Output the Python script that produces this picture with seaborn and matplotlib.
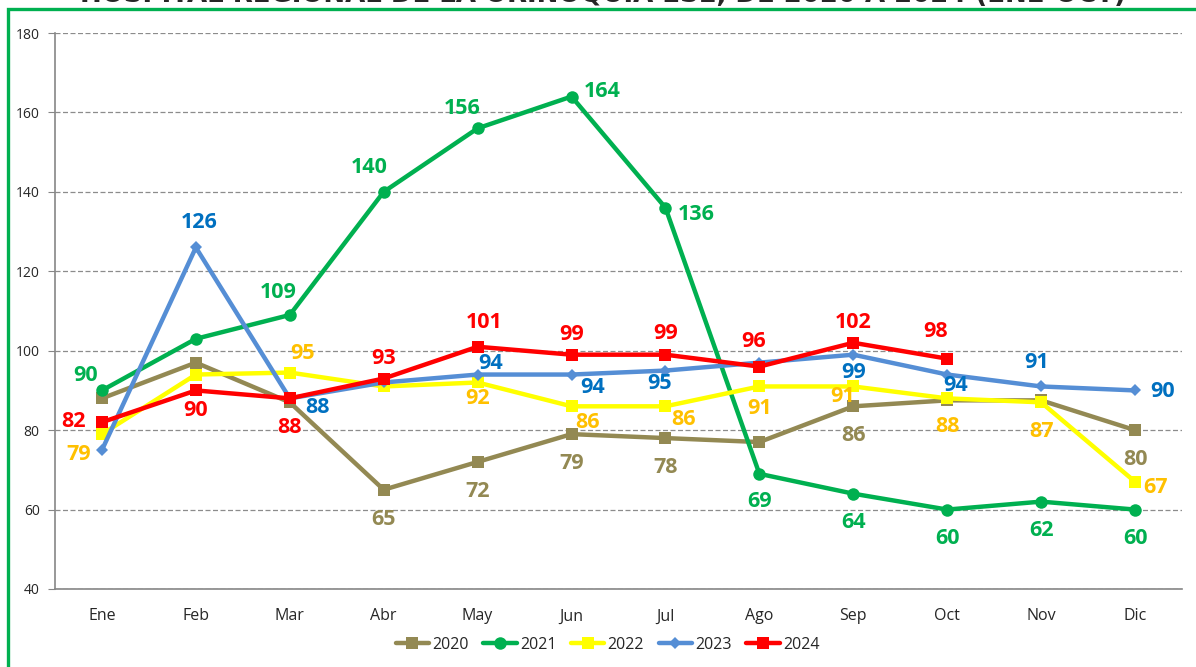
import numpy as np
import pandas as pd
import matplotlib
matplotlib.use("Agg")
import matplotlib.pyplot as plt
import seaborn as sns
from matplotlib.lines import Line2D
from matplotlib.patches import Rectangle

# data
months = ["Ene", "Feb", "Mar", "Abr", "May", "Jun", "Jul", "Ago", "Sep", "Oct", "Nov", "Dic"]
v2020 = [88, 97, 87, 65, 72, 79, 78, 77, 86, 87.5, 87.5, 80]
v2021 = [90, 103, 109, 140, 156, 164, 136, 69, 64, 60, 62, 60]
v2022 = [79, 94, 94.5, 91, 92, 86, 86, 91, 91, 88, 87, 67]
v2023 = [75, 126, 88, 92, 94, 94, 95, 97, 99, 94, 91, 90]
v2024 = [82, 90, 88, 93, 101, 99, 99, 96, 102, 98]
years = ["2020", "2021", "2022", "2023", "2024"]
title = "HOSPITAL REGIONAL DE LA ORINOQUIA ESE, DE 2020 A 2024 (ENE-OCT)"

# which points carry a label, and where it goes (offset in pixels)
labels = {
    "2020": {3: (0, -30), 4: (0, -30), 5: (0, -29), 6: (0, -29), 8: (0, -29), 11: (0, -29)},
    "2021": {0: (-16, 15), 2: (-12, 22), 3: (-14, 24), 4: (-15, 20), 5: (31, 5), 6: (31, -7),
             7: (0, -28), 8: (0, -29), 9: (0, -29), 10: (0, -29), 11: (0, -29)},
    "2022": {0: (-23, -20), 2: (13, 19), 4: (0, -16), 5: (16, -16), 6: (18, -13), 7: (0, -22),
             8: (-11, -10), 9: (0, -28), 10: (0, -29), 11: (20, -6)},
    "2023": {1: (3, 25), 2: (28, -9), 4: (13, 11), 5: (21, -13), 6: (-6, -13), 8: (0, -18),
             9: (8, -11), 10: (-5, 24), 11: (28, -1)},
    "2024": {0: (-28, 1), 1: (0, -20), 2: (0, -29), 3: (0, 20), 4: (7, 24), 5: (0, 20),
             6: (0, 21), 7: (-6, 25), 8: (0, 20), 9: (-12, 27)},
}

series = {"2020": v2020, "2021": v2021, "2022": v2022, "2023": v2023, "2024": v2024}
line_col = {"2020": "#938953", "2021": "#00B050", "2022": "#FFFF00", "2023": "#558ED5", "2024": "#FF0000"}
text_col = {"2020": "#938953", "2021": "#00B050", "2022": "#FFC000", "2023": "#0070C0", "2024": "#FF0000"}
markers = {"2020": "s", "2021": "o", "2022": "s", "2023": "D", "2024": "s"}
msize = {"2020": 9, "2021": 9, "2022": 9, "2023": 6, "2024": 9}

rows = []
for y in years:
    for i, v in enumerate(series[y]):
        rows.append({"year": y, "pos": i, "value": v})
df = pd.DataFrame(rows)

sns.set_style("white")
plt.rcParams["font.family"] = ["Open Sans", "DejaVu Sans"]

fig = plt.figure(figsize=(11.96, 6.67), dpi=100)
ax = fig.add_axes([55 / 1196, 1 - 589 / 667, (1182 - 55) / 1196, (589 - 33) / 667])

for y in years:
    d = df[df["year"] == y]
    sns.lineplot(data=d, x="pos", y="value", ax=ax, color=line_col[y], lw=3.2,
                 marker=markers[y], markersize=msize[y], markeredgewidth=0,
                 markeredgecolor=line_col[y], legend=False, zorder=3 + years.index(y) * 0.1)

for y in years:
    for i, (dx, dy) in labels[y].items():
        v = series[y][i]
        ax.annotate(str(int(np.floor(v + 0.5))), (i, v), xytext=(dx, dy), textcoords="offset pixels",
                    ha="center", va="center", fontsize=15.5, fontweight="bold",
                    color=text_col[y], zorder=6)

ax.set_xlim(-0.5, 11.5)
ax.set_ylim(40, 180)
ax.set_yticks(range(40, 181, 20))
ax.set_xticks(np.arange(-0.5, 12, 1))
ax.set_xticklabels([])
ax.set_xticks(range(12), minor=True)
ax.set_xticklabels(months, minor=True, fontsize=11.5)
ax.tick_params(axis="x", which="major", length=6, color="#868686", width=1)
ax.tick_params(axis="x", which="minor", length=0, pad=14)
ax.tick_params(axis="y", length=5, color="#868686", labelsize=10, left=True, pad=6)
ax.set_xlabel("")
ax.set_ylabel("")
ax.yaxis.grid(True, ls=(0, (4, 2)), color="#8c8c8c", lw=0.9)
ax.xaxis.grid(False)
for s in ["top", "right"]:
    ax.spines[s].set_visible(False)
for s in ["left", "bottom"]:
    ax.spines[s].set_color("#868686")
    ax.spines[s].set_linewidth(1.2)

handles = [Line2D([], [], color=line_col[y], lw=3.2, marker=markers[y],
                  markersize=msize[y], markeredgewidth=0) for y in years]
fig.legend(handles, years, loc="center", bbox_to_anchor=(0.508, 1 - 645 / 667), ncol=5,
           frameon=False, fontsize=11.5, handlelength=2.1, columnspacing=0.9, handletextpad=0.2)

fig.text(0.5045, 1 - 2 / 667, title, ha="center", va="baseline", fontsize=18.7,
         fontweight="bold", family=["DejaVu Sans"])
fig.patches.append(Rectangle((8 / 1196, -0.05), 1.2, 1.05 - 9 / 667,
                             transform=fig.transFigure, fill=False, ec="#00B050", lw=2.4))

fig.savefig("out.png", dpi=100)
